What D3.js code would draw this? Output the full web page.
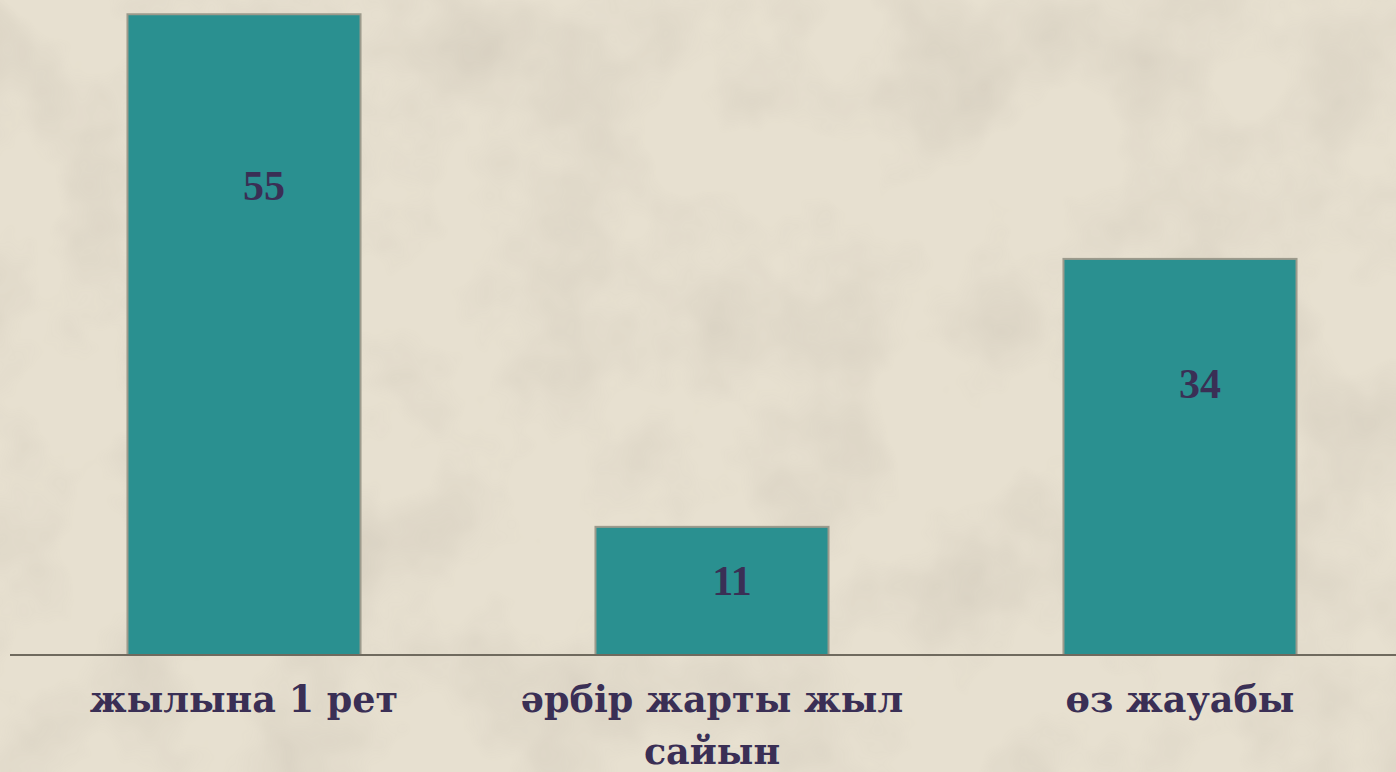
<!DOCTYPE html>
<html>
<head>
<meta charset="utf-8">
<script src="https://cdn.jsdelivr.net/npm/d3@7"></script>
<style>
  html, body { margin: 0; padding: 0; background: #e5dece; overflow: hidden; }
  svg { display: block; }
</style>
</head>
<body>
<div class="bar-chart-container"></div>
<script>
// data
const categories = ['жылына 1 рет', 'әрбір жарты жыл сайын', 'өз жауабы'];
const values = [55, 11, 34];
// where the value label sits inside each bar, in value units
const labelAt = [40.3, 6.4, 23.3];

const width = 1396;
const height = 772;
const baseY = 655;
const unit = 11.65; // px per value unit

const svg = d3.select('.bar-chart-container')
  .append('svg')
  .attr('width', width)
  .attr('height', height);

// background: beige paper with soft mottled texture
const defs = svg.append('defs');
const filt = defs.append('filter').attr('id', 'mottle').attr('x', 0).attr('y', 0).attr('width', '100%').attr('height', '100%');
filt.append('feTurbulence').attr('type', 'fractalNoise').attr('baseFrequency', 0.008).attr('numOctaves', 4).attr('seed', 7).attr('result', 'n');
filt.append('feColorMatrix').attr('in', 'n').attr('type', 'matrix')
  .attr('values', '0 0 0 0 0.55  0 0 0 0 0.50  0 0 0 0 0.42  0 0 0 -1.8 1.05');
svg.append('rect').attr('width', width).attr('height', height).attr('fill', '#e7e0d0');
svg.append('rect').attr('width', width).attr('height', height).attr('filter', 'url(#mottle)').attr('opacity', 0.45);

const xScale = d3.scaleBand()
  .domain(categories)
  .range([10, 1414])
  .paddingInner(0.502)
  .paddingOuter(0.251);

const yScale = d3.scaleLinear()
  .domain([0, 60])
  .range([baseY, baseY - 60 * unit]);

// bars
svg.selectAll('.bar')
  .data(values)
  .enter()
  .append('rect')
  .attr('class', 'bar')
  .attr('x', (d, i) => xScale(categories[i]))
  .attr('y', d => yScale(d))
  .attr('width', xScale.bandwidth())
  .attr('height', d => baseY - yScale(d))
  .style('fill', '#2a9090')
  .style('stroke', '#9c9a8c')
  .style('stroke-width', 2);

// value labels
svg.selectAll('.val')
  .data(values)
  .enter()
  .append('text')
  .attr('class', 'val')
  .attr('x', (d, i) => xScale(categories[i]) + xScale.bandwidth() / 2 + 20)
  .attr('y', (d, i) => yScale(labelAt[i]))
  .attr('dy', '0.35em')
  .attr('text-anchor', 'middle')
  .style('font-family', '"Liberation Serif", "Times New Roman", serif')
  .style('font-weight', 'bold')
  .style('font-size', '42px')
  .style('fill', '#3a2f55')
  .text(d => d);

// x axis
const xAxis = d3.axisBottom(xScale).tickSize(0).tickSizeOuter(0);
const xAxisDraw = svg.append('g')
  .attr('class', 'xaxis')
  .attr('transform', `translate(0, ${baseY})`)
  .call(xAxis);

xAxisDraw.select('.domain')
  .attr('d', `M10,0H${width}`)
  .style('stroke', '#6f6a5e')
  .style('stroke-width', 2);

xAxisDraw.selectAll('text').remove();
const wrapAt = { 'әрбір жарты жыл сайын': ['әрбір жарты жыл', 'сайын'] };
xAxisDraw.selectAll('.tick').each(function (d) {
  const lines = wrapAt[d] || [d];
  const t = d3.select(this).append('text')
    .attr('text-anchor', 'middle')
    .attr('y', 57)
    .style('font-family', '"DejaVu Serif", Cambria, serif')
    .style('font-weight', 'bold')
    .style('font-size', '36.5px')
    .style('fill', '#3a2f55');
  lines.forEach((l, i) => {
    t.append('tspan').attr('x', 0).attr('dy', i === 0 ? 0 : 52).text(l);
  });
});
</script>
</body>
</html>
